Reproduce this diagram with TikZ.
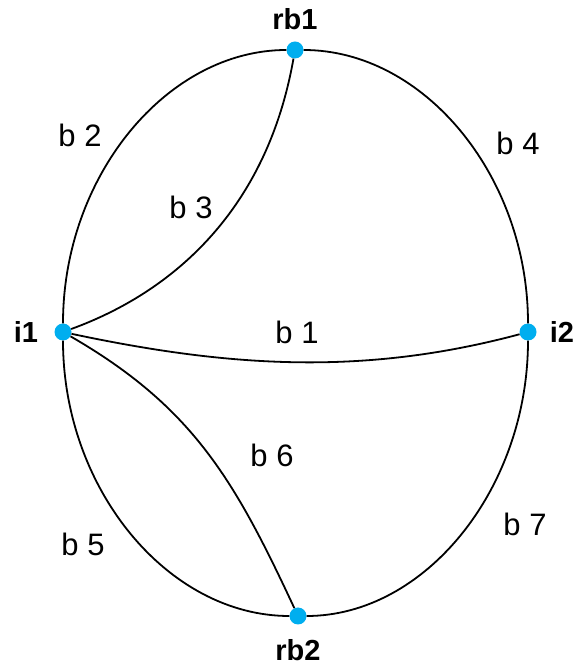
\documentclass[tikz,border=0pt]{standalone}
\usepackage{fontspec}
\setmainfont{Liberation Sans}
\usetikzlibrary{positioning}
\definecolor{dotcyan}{RGB}{0,174,239}

\begin{document}
\begin{tikzpicture}[
    x=1pt,y=1pt,
    vtx/.style ={circle,fill=dotcyan,inner sep=0pt,minimum size=17pt},
    vlbl/.style={font=\fontsize{29}{34}\selectfont\bfseries,inner sep=0pt},
    blbl/.style={font=\fontsize{31}{36}\selectfont,inner sep=0pt},
    br/.style  ={line width=1.8pt},
  ]
  \useasboundingbox (0,0) rectangle (585,670);

  %% Vertices
  \node[vtx] (i1)  at (63,338)  {};
  \node[vtx] (i2)  at (528,338) {};
  \node[vtx] (rb1) at (295,620) {};
  \node[vtx] (rb2) at (298,54)  {};

  %% Vertex names
  \node[vlbl] (i1name)  [left=16pt of i1]   {i1};
  \node[vlbl] (i2name)  [right=13pt of i2]  {i2};
  \node[vlbl] (rb1name) [above=11pt of rb1] {rb1};
  \node[vlbl] (rb2name) [below=15pt of rb2] {rb2};

  %% Branches
  \draw[br] (i1)  .. controls +(0,156) and +(-128,0) .. (rb1);
  \draw[br] (i1)  .. controls +(20:120) and +(260:160) .. (rb1);
  \draw[br] (rb1) .. controls +(129,0) and +(0,156) .. (i2);
  \draw[br] (i1)  .. controls +(-12:170) and +(195:170) .. (i2);
  \draw[br] (i1)  .. controls +(0,-157) and +(-130,0) .. (rb2);
  \draw[br] (i1)  .. controls +(-30:150) and +(115:150) .. (rb2);
  \draw[br] (rb2) .. controls +(127,0) and +(0,-157) .. (i2);

  %% Branch labels
  \node[blbl] (b1) at (297,338) {b 1};
  \node[blbl] (b2) at (80,535)  {b 2};
  \node[blbl] (b3) at (191,463) {b 3};
  \node[blbl] (b4) at (518,527) {b 4};
  \node[blbl] (b5) at (83,126)  {b 5};
  \node[blbl] (b6) at (272,215) {b 6};
  \node[blbl] (b7) at (525,146) {b 7};
\end{tikzpicture}
\end{document}
